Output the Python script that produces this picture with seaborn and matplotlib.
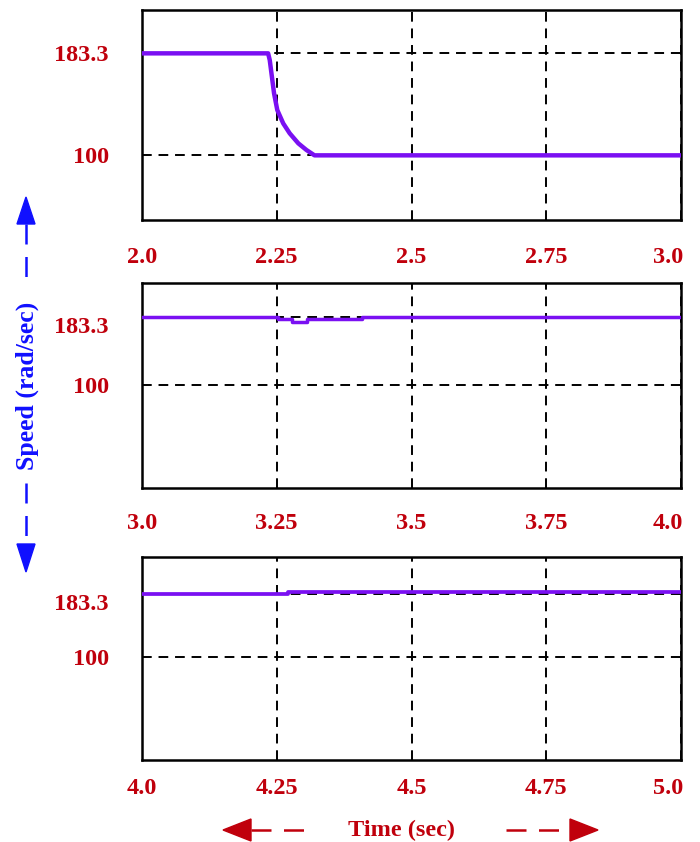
import matplotlib
matplotlib.use("Agg")
import matplotlib.pyplot as plt
import matplotlib.transforms as mtransforms
from matplotlib.lines import Line2D
from matplotlib.patches import Polygon
import pandas as pd
import seaborn as sns

# speed traces (time in sec, speed in rad/sec)
t1 = [2.0, 2.234, 2.237, 2.241, 2.245, 2.251, 2.262, 2.274, 2.290, 2.305, 2.320, 3.0]
v1 = [183.3, 183.3, 177.8, 164.2, 150.6, 137.0, 126.1, 118.0, 109.8, 104.4, 100.0, 100.0]

t2 = [3.0, 3.252, 3.278, 3.306, 3.408, 4.0]
v2 = [183.3, 180.5, 176.5, 180.5, 183.3, 183.3]

t3 = [4.0, 4.271, 5.0]
v3 = [183.3, 186.3, 186.3]

xticks1 = [2.0, 2.25, 2.5, 2.75, 3.0]
xlabels1 = ["2.0", "2.25", "2.5", "2.75", "3.0"]
xticks2 = [3.0, 3.25, 3.5, 3.75, 4.0]
xlabels2 = ["3.0", "3.25", "3.5", "3.75", "4.0"]
xticks3 = [4.0, 4.25, 4.5, 4.75, 5.0]
xlabels3 = ["4.0", "4.25", "4.5", "4.75", "5.0"]
yticks = [100, 183.3]
ylabels = ["100", "183.3"]

sns.set_style("white")
plt.rcParams["font.family"] = ["Liberation Serif", "DejaVu Serif"]

W, H = 700, 842
RED = "#c0000c"
BLUE = "#1010ff"
PURPLE = "#7a10f2"

fig = plt.figure(figsize=(W / 100, H / 100), dpi=100)


def px(x, y):
    return x / W, 1 - y / H


panels = [
    # (data, ticks, labels, draw style, ylim, top px, bottom px, xpad, lw)
    (t1, v1, xticks1, xlabels1, "default", (47.2, 218.7), 10, 220, 19.4, 3.2),
    (t2, v2, xticks2, xlabels2, "steps-post", (-25.6, 224.8), 282.7, 488, 18.0, 2.5),
    (t3, v3, xticks3, xlabels3, "steps-post", (-35.1, 232.4), 556.7, 760, 13.0, 2.7),
]

for i, (t, v, xt, xl, ds, ylim, top, bot, xpad, lw) in enumerate(panels):
    ax = fig.add_axes([142 / W, 1 - bot / H, 539 / W, (bot - top) / H])
    df = pd.DataFrame({"time": t, "speed": v})
    sns.lineplot(data=df, x="time", y="speed", ax=ax, color=PURPLE,
                 linewidth=lw, drawstyle=ds, zorder=3)
    ax.set_xlim(xt[0], xt[-1])
    ax.set_ylim(*ylim)
    ax.set_xticks(xt)
    ax.set_xticklabels(xl)
    ax.set_yticks(yticks)
    ax.set_yticklabels(ylabels)
    ax.set_xlabel("")
    ax.set_ylabel("")
    ax.grid(True, color="black", linewidth=1.4, linestyle=(0, (5, 3.5)))
    for s in ax.spines.values():
        s.set_visible(True)
        s.set_color("black")
        s.set_linewidth(1.8)
    ax.tick_params(axis="both", length=0, labelcolor=RED, labelsize=17.5)
    ax.tick_params(axis="x", pad=xpad)
    ax.tick_params(axis="y", pad=24)
    for lab in ax.get_xticklabels() + ax.get_yticklabels():
        lab.set_fontweight("bold")
    last = ax.get_xticklabels()[-1]
    last.set_horizontalalignment("right")
    last.set_transform(last.get_transform()
                       + mtransforms.ScaledTranslation(2 / 100, 0, fig.dpi_scale_trans))
    if i > 0:
        lab = ax.get_yticklabels()[1]
        lab.set_transform(lab.get_transform()
                          + mtransforms.ScaledTranslation(0, -8 / 100, fig.dpi_scale_trans))


def dashed(p0, p1, color):
    x0, y0 = px(*p0)
    x1, y1 = px(*p1)
    fig.add_artist(Line2D([x0, x1], [y0, y1], transform=fig.transFigure,
                          color=color, linewidth=1.8, linestyle=(0, (8, 5))))


def head(tip, base_c, half_w, color, vertical):
    if vertical:
        pts = [tip, (base_c[0] - half_w, base_c[1]), (base_c[0] + half_w, base_c[1])]
    else:
        pts = [tip, (base_c[0], base_c[1] - half_w), (base_c[0], base_c[1] + half_w)]
    fig.add_artist(Polygon([px(*p) for p in pts], closed=True,
                           transform=fig.transFigure, facecolor=color,
                           edgecolor=color))


# y-axis label with arrows
head((26, 197), (26, 224), 9, BLUE, True)
dashed((26, 224), (26, 282), BLUE)
dashed((26, 483), (26, 544), BLUE)
head((26, 572), (26, 544), 9, BLUE, True)
fig.text(*px(27, 386), "Speed (rad/sec)", rotation=90, ha="center", va="center",
         color=BLUE, fontsize=18.5, fontweight="bold")

# x-axis label with arrows
head((223, 830), (251, 830), 11, RED, False)
dashed((251, 830), (316, 830), RED)
dashed((506, 830), (570, 830), RED)
head((598, 830), (570, 830), 11, RED, False)
fig.text(*px(402, 830), "Time (sec)", ha="center", va="center",
         color=RED, fontsize=17.5, fontweight="bold")

fig.savefig("out.png", dpi=100)
